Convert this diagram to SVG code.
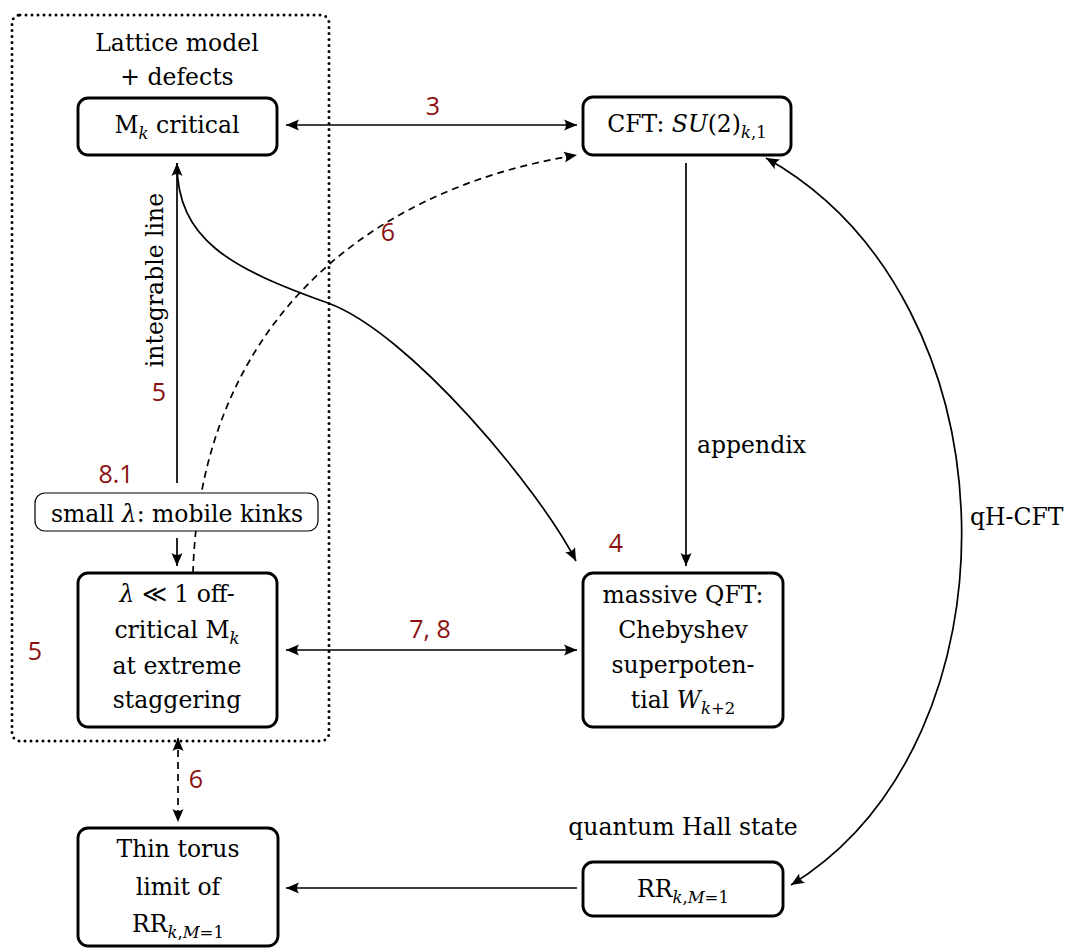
<svg xmlns="http://www.w3.org/2000/svg" width="1065" height="949" viewBox="0 0 1065 949">
<style>
.t{font-family:"DejaVu Serif","Liberation Serif",serif;font-size:23.5px;fill:#000;text-anchor:middle}
.st{font-size:16.5px;font-style:italic}
.sn{font-size:16.5px}
.it{font-style:italic}
.n{font-family:"Open Sans","Noto Sans","DejaVu Sans",sans-serif;font-size:25px;fill:#8c0f0f;text-anchor:middle}
.box{fill:#fff;stroke:#000;stroke-width:2.9}
.thin{fill:#fff;stroke:#000;stroke-width:1.2}
.c{fill:none;stroke:#000;stroke-width:1.7}
.d{stroke-dasharray:7 5}
</style>
<defs>
<marker id="ar" viewBox="-14 -7 15 14" refX="0" refY="0" markerWidth="15" markerHeight="14" markerUnits="userSpaceOnUse" orient="auto-start-reverse">
<path d="M0,0 L-13,-5.5 Q-9,0 -13,5.5 Z" fill="#000"/>
</marker>
</defs>

<g id="group-lattice">
<rect x="12" y="15" width="317" height="726" rx="8" fill="none" stroke="#000" stroke-width="3" stroke-dasharray="0 6" stroke-linecap="round"/>
<text class="t" x="177" y="51">Lattice model</text>
<text class="t" x="177" y="85">+ defects</text>
</g>

<g id="connectors">
<line class="c" x1="286" y1="125" x2="577" y2="125" marker-start="url(#ar)" marker-end="url(#ar)"/>
<line class="c" x1="177" y1="483" x2="177" y2="163" marker-end="url(#ar)"/>
<path class="c" d="M177,163 C177,240 230,268 328,303 C410,333 540,490 576,561" marker-end="url(#ar)"/>
<line class="c" x1="177" y1="538" x2="177" y2="566" marker-end="url(#ar)"/>
<path class="c d" d="M193,573 C200,330 360,190 577,155" marker-end="url(#ar)"/>
<line class="c" x1="286" y1="650" x2="577" y2="650" marker-start="url(#ar)" marker-end="url(#ar)"/>
<line class="c" x1="686" y1="163" x2="686" y2="566" marker-end="url(#ar)"/>
<path class="c" d="M766,158 C1020,300 1025,741 791,885" marker-start="url(#ar)" marker-end="url(#ar)"/>
<line class="c" x1="577" y1="888" x2="286" y2="888" marker-end="url(#ar)"/>
<line class="c d" x1="178" y1="738" x2="178" y2="822" marker-start="url(#ar)" marker-end="url(#ar)"/>
<text class="n" x="433" y="115">3</text>
<text class="n" x="388" y="241">6</text>
<text class="n" x="159" y="401">5</text>
<text class="n" x="116" y="483">8.1</text>
<text class="n" x="35" y="660">5</text>
<text class="n" x="430" y="638">7, 8</text>
<text class="n" x="616" y="552">4</text>
<text class="n" x="196" y="788">6</text>
<text class="t" x="697" y="453" style="text-anchor:start">appendix</text>
<text class="t" x="970" y="525" style="text-anchor:start">qH-CFT</text>
<text class="t" transform="translate(163,280) rotate(-90)">integrable line</text>
</g>

<g id="node-mk-critical">
<rect class="box" x="78" y="98" width="199" height="57" rx="10"/>
<text class="t" x="177" y="133">M<tspan class="st" dy="6">k</tspan><tspan dy="-6"> critical</tspan></text>
</g>

<g id="node-cft">
<rect class="box" x="583" y="97" width="208" height="58" rx="10"/>
<text class="t" x="687" y="132">CFT: <tspan class="it">SU</tspan>(2)<tspan class="st" dy="6">k</tspan><tspan class="sn">,1</tspan></text>
</g>

<g id="node-small-lambda">
<rect class="thin" x="35" y="493" width="283" height="38" rx="10"/>
<text class="t" x="177" y="522">small <tspan class="it">λ</tspan>: mobile kinks</text>
</g>

<g id="node-offcritical">
<rect class="box" x="78" y="573" width="199" height="154" rx="10"/>
<text class="t" x="177" y="602"><tspan class="it">λ</tspan> ≪ 1 off-</text>
<text class="t" x="177" y="638">critical M<tspan class="st" dy="6">k</tspan></text>
<text class="t" x="177" y="674">at extreme</text>
<text class="t" x="177" y="708">staggering</text>
</g>

<g id="node-massive-qft">
<rect class="box" x="583" y="573" width="200" height="154" rx="10"/>
<text class="t" x="683" y="603">massive QFT:</text>
<text class="t" x="683" y="638">Chebyshev</text>
<text class="t" x="683" y="673">superpoten-</text>
<text class="t" x="683" y="708">tial <tspan class="it">W</tspan><tspan class="st" dy="6">k</tspan><tspan class="sn">+2</tspan></text>
</g>

<g id="node-thin-torus">
<rect class="box" x="78" y="828" width="200" height="118" rx="10"/>
<text class="t" x="178" y="857">Thin torus</text>
<text class="t" x="178" y="895">limit of</text>
<text class="t" x="178" y="932">RR<tspan class="st" dy="6">k</tspan><tspan class="sn">,</tspan><tspan class="st">M</tspan><tspan class="sn">=1</tspan></text>
</g>

<g id="node-rr">
<text class="t" x="683" y="835">quantum Hall state</text>
<rect class="box" x="583" y="862" width="200" height="54" rx="10"/>
<text class="t" x="683" y="897">RR<tspan class="st" dy="6">k</tspan><tspan class="sn">,</tspan><tspan class="st">M</tspan><tspan class="sn">=1</tspan></text>
</g>
</svg>
